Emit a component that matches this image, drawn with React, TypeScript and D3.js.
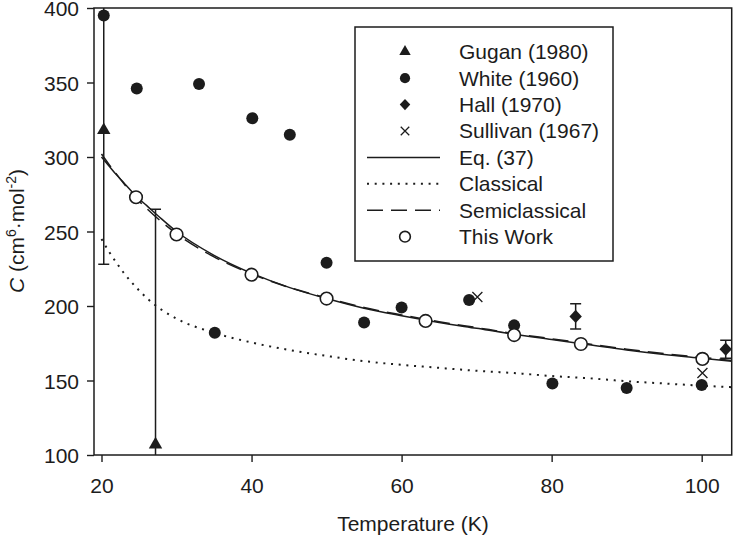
import { useEffect, useRef } from 'react';
import * as d3 from 'd3';

const WIDTH = 734;
const HEIGHT = 536;
const FONT = '"Liberation Sans", Arial, Helvetica, sans-serif';
const INK = '#1c1c1c';

// Gugan (1980) with error bars
const guganT = [20.3, 27.2];
const guganC = [318, 107];
const guganErr = [90, 158];

// White (1960)
const whiteT = [20.3, 24.7, 33.0, 35.1, 40.1, 45.1, 50.0, 55.0, 60.0, 69.0, 75.0, 80.1, 90.0, 100.0];
const whiteC = [395, 346, 349, 182, 326, 315, 229, 189, 199, 204, 187, 148, 145, 147];

// Hall (1970) with error bars
const hallT = [83.2, 103.2];
const hallC = [193, 171];
const hallErr = [8.5, 6];

// Sullivan (1967)
const sullivanT = [70.1, 100.1];
const sullivanC = [206, 155];

// This Work
const thisWorkT = [24.6, 30.0, 40.0, 50.0, 63.2, 75.0, 83.9, 100.1];
const thisWorkC = [273, 248, 221, 205, 190, 180.5, 174.5, 164.5];

// curves at these temperatures
const curveT = [20, 21, 22, 23, 24, 25, 26, 28, 30, 35, 40, 45, 50, 55, 60, 65, 70, 75, 80, 85, 90, 95, 100, 104];
const eq37C = [300, 294, 288, 282.5, 277, 272, 267.5, 258.5, 250, 234, 222, 212.5, 205, 198.5, 193.5, 189, 185, 181, 177.5, 174, 170.5, 167.5, 165, 163];
const semiC = [302, 295, 288.5, 282, 276, 270.5, 265.5, 256.5, 248.5, 233, 221.5, 212.5, 205.5, 199, 194, 189.5, 185.5, 181.5, 178, 174.5, 171, 168, 165.5, 163.5];
const classicalC = [245, 236.5, 229, 222, 216, 210.5, 205.5, 197.5, 191.5, 182, 175.5, 170.5, 166.5, 163, 160.5, 158.5, 156.5, 155, 153, 151.5, 149.5, 148, 146.5, 145.5];

const xTicks = [20, 40, 60, 80, 100];
const yTicks = [100, 150, 200, 250, 300, 350, 400];

const legendLabels = ['Gugan (1980)', 'White (1960)', 'Hall (1970)', 'Sullivan (1967)', 'Eq. (37)', 'Classical', 'Semiclassical', 'This Work'];
const legendKinds = ['triangle', 'dot', 'diamond', 'cross', 'solid', 'dotted', 'dashed', 'open'];

type G = d3.Selection<SVGGElement, unknown, null, undefined>;

const drawMarker = (g: G, kind: string, cx: number, cy: number, s = 1) => {
  if (kind === 'triangle') {
    g.append('path')
      .attr('d', d3.symbol().type(d3.symbolTriangle).size(78 * s * s)())
      .attr('transform', `translate(${cx},${cy})`)
      .attr('fill', INK);
  } else if (kind === 'dot') {
    g.append('circle').attr('cx', cx).attr('cy', cy).attr('r', 6 * s).attr('fill', INK);
  } else if (kind === 'diamond') {
    const w = 6.2 * s;
    const h = 6.6 * s;
    g.append('path')
      .attr('d', `M${cx},${cy - h}L${cx + w},${cy}L${cx},${cy + h}L${cx - w},${cy}Z`)
      .attr('fill', INK);
  } else if (kind === 'cross') {
    const r = 5 * s;
    g.append('path')
      .attr('d', `M${cx - r},${cy - r}L${cx + r},${cy + r}M${cx - r},${cy + r}L${cx + r},${cy - r}`)
      .attr('stroke', INK)
      .attr('stroke-width', 1.3)
      .attr('fill', 'none');
  } else if (kind === 'open') {
    g.append('circle')
      .attr('cx', cx)
      .attr('cy', cy)
      .attr('r', 6.3 * s)
      .attr('fill', '#fff')
      .attr('stroke', INK)
      .attr('stroke-width', 1.6);
  }
};

const lineStyle: Record<string, string | null> = {
  solid: null,
  dotted: '2 5.7',
  dashed: '16 8',
};

export default function App() {
  const svgRef = useRef<SVGSVGElement | null>(null);

  useEffect(() => {
    if (!svgRef.current) return;
    const svg = d3.select(svgRef.current);
    svg.selectAll('*').remove();

    const left = 94;
    const right = 731.7;
    const top = 8;
    const bottom = 455;

    const x = d3.scaleLinear().domain([19, 104]).range([left, right]);
    const y = d3.scaleLinear().domain([100, 400]).range([bottom, top]);

    svg.append('rect').attr('width', WIDTH).attr('height', HEIGHT).attr('fill', '#fff');

    svg
      .append('defs')
      .append('clipPath')
      .attr('id', 'plot-clip')
      .append('rect')
      .attr('x', left)
      .attr('y', top)
      .attr('width', right - left)
      .attr('height', bottom - top);

    // axes
    const xAxis = svg
      .append('g')
      .attr('transform', `translate(0,${bottom})`)
      .call(d3.axisBottom(x).tickValues(xTicks).tickSize(7).tickPadding(16));
    const yAxis = svg
      .append('g')
      .attr('transform', `translate(${left},0)`)
      .call(d3.axisLeft(y).tickValues(yTicks).tickSize(7).tickPadding(8));
    [xAxis, yAxis].forEach((a) => {
      a.select('.domain').remove();
      a.selectAll('line').attr('stroke', INK).attr('stroke-width', 1.4);
      a.selectAll('text').attr('fill', INK).attr('font-size', 21).attr('font-family', FONT);
    });
    yAxis.selectAll('text').attr('dy', '0.37em');

    const plot = svg.append('g').attr('clip-path', 'url(#plot-clip)');

    // curves
    const line = d3
      .line<number>()
      .x((_, i) => x(curveT[i]))
      .y((v) => y(v))
      .curve(d3.curveMonotoneX);

    plot.append('path').attr('d', line(classicalC)).attr('fill', 'none').attr('stroke', INK)
      .attr('stroke-width', 2).attr('stroke-dasharray', lineStyle.dotted);
    plot.append('path').attr('d', line(eq37C)).attr('fill', 'none').attr('stroke', INK).attr('stroke-width', 1.5);
    plot.append('path').attr('d', line(semiC)).attr('fill', 'none').attr('stroke', INK)
      .attr('stroke-width', 1.5).attr('stroke-dasharray', lineStyle.dashed);

    // error bars
    const errorBar = (t: number, c: number, e: number) => {
      const cx = x(t);
      plot.append('line').attr('x1', cx).attr('x2', cx).attr('y1', y(c - e)).attr('y2', y(c + e))
        .attr('stroke', INK).attr('stroke-width', 1.5);
      [c - e, c + e].forEach((v) => {
        plot.append('line').attr('x1', cx - 5.5).attr('x2', cx + 5.5).attr('y1', y(v)).attr('y2', y(v))
          .attr('stroke', INK).attr('stroke-width', 1.5);
      });
    };
    guganT.forEach((t, i) => errorBar(t, guganC[i], guganErr[i]));
    hallT.forEach((t, i) => errorBar(t, hallC[i], hallErr[i]));

    // markers
    whiteT.forEach((t, i) => drawMarker(plot, 'dot', x(t), y(whiteC[i])));
    guganT.forEach((t, i) => drawMarker(plot, 'triangle', x(t), y(guganC[i])));
    hallT.forEach((t, i) => drawMarker(plot, 'diamond', x(t), y(hallC[i])));
    sullivanT.forEach((t, i) => drawMarker(plot, 'cross', x(t), y(sullivanC[i])));
    thisWorkT.forEach((t, i) => drawMarker(plot, 'open', x(t), y(thisWorkC[i])));

    // frame
    svg.append('rect').attr('x', left).attr('y', top).attr('width', right - left).attr('height', bottom - top)
      .attr('fill', 'none').attr('stroke', INK).attr('stroke-width', 1.5);

    // legend
    const legend = svg.append('g');
    legend.append('rect').attr('x', 355).attr('y', 27).attr('width', 258).attr('height', 234)
      .attr('fill', '#fff').attr('stroke', INK).attr('stroke-width', 1.5);
    legendLabels.forEach((label, i) => {
      const cy = 51.7 + i * 26.43;
      const kind = legendKinds[i];
      if (kind in lineStyle) {
        const l = legend.append('line').attr('x1', 367).attr('x2', 440).attr('y1', cy).attr('y2', cy)
          .attr('stroke', INK).attr('stroke-width', kind === 'dotted' ? 2 : 1.5);
        if (lineStyle[kind]) l.attr('stroke-dasharray', lineStyle[kind]);
      } else {
        drawMarker(legend, kind, 405, cy, 0.85);
      }
      legend.append('text').attr('x', 459).attr('y', cy + 7.5).attr('font-size', 21)
        .attr('font-family', FONT).attr('fill', INK).text(label);
    });

    // axis titles
    svg.append('text').attr('x', 413).attr('y', 531).attr('text-anchor', 'middle').attr('font-size', 21)
      .attr('font-family', FONT).attr('fill', INK).text('Temperature (K)');

    const yt = svg.append('text').attr('transform', 'translate(24,231) rotate(-90)').attr('text-anchor', 'middle')
      .attr('font-size', 21).attr('font-family', FONT).attr('fill', INK);
    yt.append('tspan').attr('font-style', 'italic').text('C');
    yt.append('tspan').text(' (cm');
    yt.append('tspan').attr('font-size', 14).attr('dy', -8).text('6');
    yt.append('tspan').attr('dy', 8).text('·mol');
    yt.append('tspan').attr('font-size', 14).attr('dy', -8).text('-2');
    yt.append('tspan').attr('dy', 8).text(')');
  }, []);

  return (
    <svg
      ref={svgRef}
      width={WIDTH}
      height={HEIGHT}
      viewBox={`0 0 ${WIDTH} ${HEIGHT}`}
      style={{ position: 'absolute', left: 0, top: 0 }}
    />
  );
}
